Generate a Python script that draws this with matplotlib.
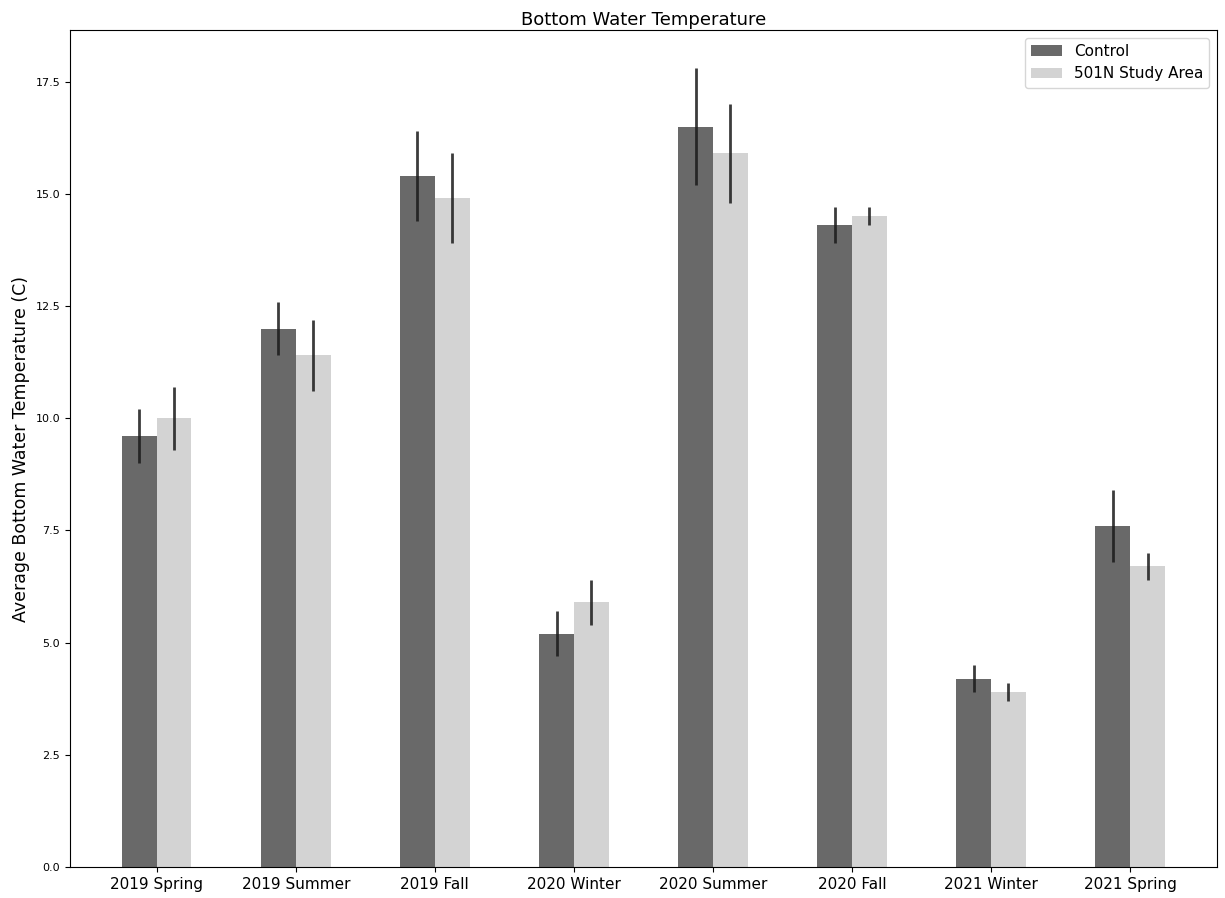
import matplotlib.pyplot as plt
import numpy as np

seasons = ["2019 Spring", "2019 Summer", "2019 Fall", "2020 Winter",
           "2020 Summer", "2020 Fall", "2021 Winter", "2021 Spring"]
control = [9.6, 12.0, 15.4, 5.2, 16.5, 14.3, 4.2, 7.6]
control_err = [0.6, 0.6, 1.0, 0.5, 1.3, 0.4, 0.3, 0.8]
study = [10.0, 11.4, 14.9, 5.9, 15.9, 14.5, 3.9, 6.7]
study_err = [0.7, 0.8, 1.0, 0.5, 1.1, 0.2, 0.2, 0.3]

fig = plt.figure(figsize=(12.25, 8.98), dpi=100)
ax = fig.add_axes([0.057, 0.0345, 0.9365, 0.932])

x = np.arange(len(seasons))
w = 0.25
ax.bar(x - w / 2, control, w, color="dimgray", label="Control")
ax.bar(x + w / 2, study, w, color="lightgray", label="501N Study Area")
ax.errorbar(x - w / 2, control, yerr=control_err, fmt="none", ecolor="#1a1a1a", elinewidth=2, alpha=0.85)
ax.errorbar(x + w / 2, study, yerr=study_err, fmt="none", ecolor="#1a1a1a", elinewidth=2, alpha=0.85)

ax.set_xlim(-0.625, 7.625)
ax.set_ylim(0, 18.65)
ax.set_yticks([0, 2.5, 5, 7.5, 10, 12.5, 15, 17.5])
ax.set_xticks(x)
ax.set_xticklabels(seasons, fontsize=11)
ax.tick_params(axis="y", labelsize=8)
ax.set_ylabel("Average Bottom Water Temperature (C)", fontsize=12.5)
ax.set_title("Bottom Water Temperature", fontsize=13, pad=4)
ax.legend(loc="upper right", fontsize=11)

plt.savefig("out.png", dpi=100)
